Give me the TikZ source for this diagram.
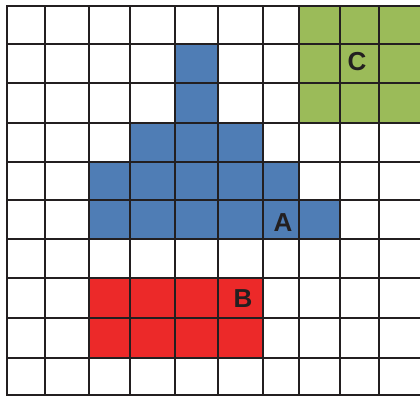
\documentclass[tikz,border=0pt]{standalone}
\usepackage{fontspec}
\setmainfont{Liberation Sans}
\definecolor{cellblue}{RGB}{79,125,181}
\definecolor{cellgreen}{RGB}{155,187,89}
\definecolor{cellred}{RGB}{236,41,41}
\definecolor{gridline}{RGB}{35,31,32}
\begin{document}
\begin{tikzpicture}[x=1pt,y=-1pt,
  gridstroke/.style={draw=gridline,line width=2.4pt},
  letter/.style={font=\fontsize{26}{26}\selectfont\bfseries,text=gridline,inner sep=0pt}]
\useasboundingbox (0,0) rectangle (420,396);
\fill[white] (0,0) rectangle (420,396);
\def\xs{{7,45,89,130,175,218,263,299,340,379,420}}
\def\ys{{6,44,83,123,162,200,239,278,318,358,395}}
% cell filler: #1 colour, #2 col, #3 row
\newcommand{\cellfill}[3]{%
  \pgfmathsetmacro{\xa}{\xs[#2]}\pgfmathsetmacro{\xb}{\xs[#2+1]}%
  \pgfmathsetmacro{\ya}{\ys[#3]}\pgfmathsetmacro{\yb}{\ys[#3+1]}%
  \fill[#1] (\xa,\ya) rectangle (\xb,\yb);}
% green block
\foreach \c in {7,8,9}{\foreach \r in {0,1,2}{\cellfill{cellgreen}{\c}{\r}}}
% blue shape
\cellfill{cellblue}{4}{1}
\cellfill{cellblue}{4}{2}
\foreach \c in {3,4,5}{\cellfill{cellblue}{\c}{3}}
\foreach \c in {2,...,6}{\cellfill{cellblue}{\c}{4}}
\foreach \c in {2,...,7}{\cellfill{cellblue}{\c}{5}}
% red block
\foreach \c in {2,...,5}{\foreach \r in {7,8}{\cellfill{cellred}{\c}{\r}}}
% grid lines
\foreach \x in {7,45,89,130,175,218,263,299,340,379}{\draw[gridstroke] (\x,6) -- (\x,396);}
\foreach \y in {6,44,83,123,162,200,239,278,318,358,395}{\draw[gridstroke] (6,\y) -- (420,\y);}
% labels
\node[letter] (labC) at (357,62) {C};
\node[letter] (labA) at (283,222.5) {A};
\node[letter] (labB) at (243,299) {B};
\end{tikzpicture}
\end{document}
